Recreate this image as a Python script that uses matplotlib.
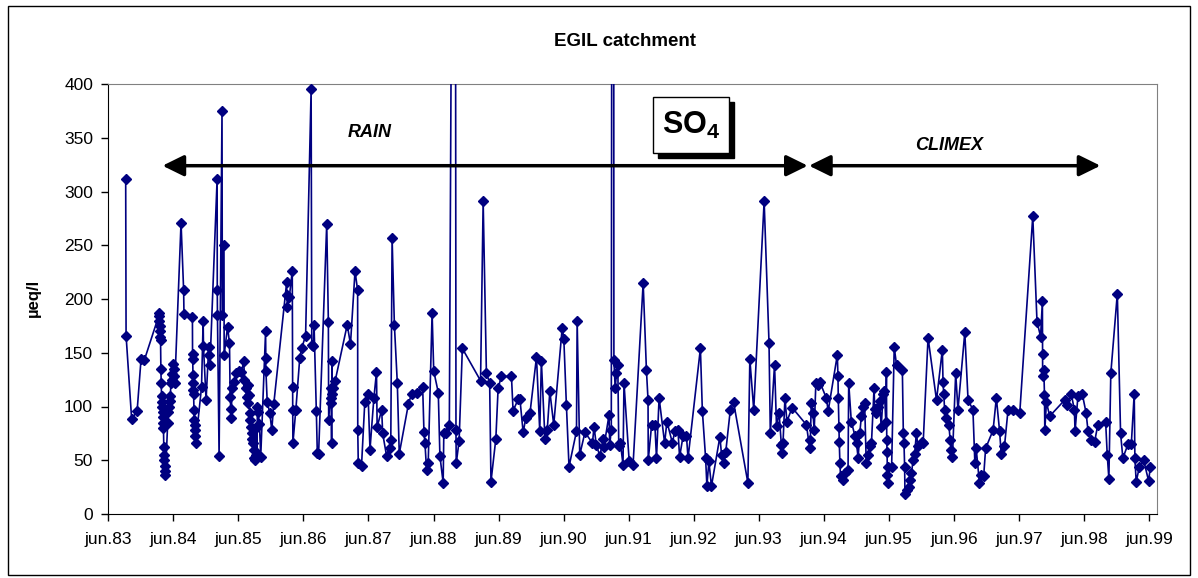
import matplotlib.pyplot as plt
from matplotlib.patches import Rectangle

plt.rcParams['font.family'] = ['Liberation Sans', 'DejaVu Sans']
plt.rcParams['mathtext.fontset'] = 'custom'
plt.rcParams['mathtext.rm'] = 'Liberation Sans'
plt.rcParams['mathtext.bf'] = 'Liberation Sans:bold'

# sampling dates (decimal years) and SO4 concentrations (ueq/l)
dates = [
    1983.684, 1983.690, 1983.776, 1983.860, 1983.920, 1983.970,
    1984.190, 1984.195, 1984.200, 1984.205, 1984.210, 1984.215, 1984.220, 1984.225,
    1984.230, 1984.235, 1984.240, 1984.245, 1984.250, 1984.255, 1984.260, 1984.265,
    1984.270, 1984.275, 1984.280, 1984.285, 1984.290, 1984.295, 1984.330, 1984.340,
    1984.350, 1984.360, 1984.370, 1984.380, 1984.390, 1984.400, 1984.410, 1984.420,
    1984.430, 1984.440,
    1984.535, 1984.575, 1984.580, 1984.710, 1984.712, 1984.715, 1984.718, 1984.722,
    1984.725, 1984.728, 1984.733, 1984.738, 1984.745, 1984.750, 1984.755, 1984.760,
    1984.850, 1984.875, 1984.880, 1984.920, 1984.960, 1984.970, 1984.980,
    1985.090, 1985.092, 1985.095, 1985.120, 1985.165, 1985.170, 1985.195, 1985.198,
    1985.250, 1985.280, 1985.290, 1985.300, 1985.305, 1985.320, 1985.345, 1985.380,
    1985.420, 1985.460, 1985.500, 1985.510, 1985.530, 1985.550, 1985.560, 1985.570,
    1985.580, 1985.590, 1985.600, 1985.610, 1985.620, 1985.630, 1985.640, 1985.650,
    1985.660, 1985.670, 1985.680, 1985.690, 1985.700, 1985.710, 1985.720, 1985.740,
    1985.760, 1985.835, 1985.838, 1985.840, 1985.860, 1985.900, 1985.930, 1985.960,
    1986.160, 1986.163, 1986.168, 1986.200, 1986.245, 1986.250, 1986.252, 1986.255,
    1986.300, 1986.360, 1986.390, 1986.450, 1986.535, 1986.545, 1986.570, 1986.580,
    1986.615, 1986.630, 1986.650, 1986.775, 1986.800, 1986.805, 1986.835, 1986.840,
    1986.845, 1986.850, 1986.855, 1986.860, 1986.870, 1986.905,
    1987.090, 1987.140, 1987.210, 1987.250, 1987.252, 1987.260, 1987.310, 1987.360,
    1987.410, 1987.440, 1987.500, 1987.540, 1987.550, 1987.620, 1987.635, 1987.695,
    1987.745, 1987.760, 1987.780, 1987.815, 1987.860, 1987.890,
    1988.030, 1988.080, 1988.160, 1988.250, 1988.270, 1988.285, 1988.310, 1988.335,
    1988.395, 1988.420, 1988.490, 1988.515, 1988.565, 1988.575, 1988.610, 1988.660,
    1988.745, 1988.762, 1988.766, 1988.810, 1988.860,
    1989.140, 1989.180, 1989.230, 1989.280, 1989.300, 1989.375, 1989.410, 1989.460,
    1989.615, 1989.640, 1989.720, 1989.745, 1989.795, 1989.835, 1989.900,
    1990.000, 1990.050, 1990.075, 1990.130, 1990.165, 1990.205, 1990.265, 1990.395,
    1990.420, 1990.460, 1990.500, 1990.615, 1990.625, 1990.665, 1990.745, 1990.860,
    1990.885, 1990.920, 1990.975, 1991.025, 1991.035, 1991.115, 1991.125, 1991.150,
    1991.179, 1991.190, 1991.210, 1991.230, 1991.250, 1991.265, 1991.290, 1991.330,
    1991.345, 1991.425, 1991.485, 1991.640, 1991.690, 1991.715, 1991.718, 1991.770,
    1991.820, 1991.845, 1991.885, 1991.970,
    1992.005, 1992.090, 1992.125, 1992.175, 1992.200, 1992.255, 1992.305, 1992.330,
    1992.520, 1992.550, 1992.600, 1992.620, 1992.650, 1992.690, 1992.820, 1992.845,
    1992.880, 1992.910, 1992.980,
    1993.030, 1993.250, 1993.280, 1993.340, 1993.500, 1993.575, 1993.595, 1993.660,
    1993.690, 1993.730, 1993.765, 1993.770, 1993.790, 1993.820, 1993.850, 1993.930,
    1994.150, 1994.200, 1994.210, 1994.225, 1994.250, 1994.270, 1994.295, 1994.330,
    1994.355, 1994.455, 1994.485, 1994.625, 1994.635, 1994.640, 1994.650, 1994.655,
    1994.665, 1994.675, 1994.705, 1994.740, 1994.790, 1994.800, 1994.840, 1994.895,
    1994.920, 1994.945, 1994.970, 1994.995,
    1995.020, 1995.045, 1995.070, 1995.095, 1995.120, 1995.150, 1995.190, 1995.200,
    1995.225, 1995.250, 1995.275, 1995.300, 1995.330, 1995.350, 1995.370, 1995.380,
    1995.385, 1995.390, 1995.395, 1995.400, 1995.410, 1995.460, 1995.500, 1995.535,
    1995.625, 1995.640, 1995.650, 1995.660, 1995.665, 1995.700, 1995.730, 1995.740,
    1995.765, 1995.790, 1995.815, 1995.840, 1995.865, 1995.920, 1995.945,
    1996.020, 1996.150, 1996.240, 1996.250, 1996.260, 1996.275, 1996.300, 1996.340,
    1996.360, 1996.380, 1996.395, 1996.445, 1996.480, 1996.585, 1996.635, 1996.710,
    1996.740, 1996.760, 1996.810, 1996.840, 1996.875, 1996.905,
    1997.020, 1997.070, 1997.120, 1997.145, 1997.195, 1997.250, 1997.330, 1997.430,
    1997.630, 1997.695, 1997.750, 1997.778, 1997.780, 1997.782, 1997.800, 1997.810,
    1997.815, 1997.840, 1997.890,
    1998.120, 1998.160, 1998.220, 1998.270, 1998.280, 1998.325, 1998.390, 1998.450,
    1998.480, 1998.530, 1998.580, 1998.630, 1998.750, 1998.775, 1998.800, 1998.830,
    1998.930, 1998.980, 1999.015, 1999.095, 1999.145, 1999.190, 1999.200, 1999.220,
    1999.270, 1999.335, 1999.410, 1999.440,
]
so4 = [
    312, 166, 88, 96, 144, 143,
    184, 187, 180, 175, 170, 165, 162, 135,
    122, 110, 104, 100, 95, 90, 85, 80,
    62, 55, 50, 45, 40, 36, 85, 95,
    100, 105, 110, 122, 125, 130, 140, 135,
    128, 122,
    271, 208, 186, 183, 149, 144, 129, 122,
    115, 112, 97, 87, 83, 78, 73, 66,
    118, 180, 156, 106, 155, 148, 139,
    312, 208, 185, 54, 375, 185, 250, 148,
    174, 159, 109, 98, 89, 117, 123, 131,
    133, 132, 142, 125, 117, 109, 103, 120,
    111, 94, 87, 81, 75, 70, 66, 60,
    52, 50, 55, 80, 56, 100, 95, 84,
    53, 170, 145, 133, 104, 94, 78, 102,
    216, 204, 193, 202, 226, 118, 97, 66,
    97, 145, 154, 166, 395, 157, 156, 176,
    96, 57, 56, 270, 179, 87, 117, 108,
    103, 66, 142, 112, 117, 124,
    176, 158, 226, 208, 78, 47, 45, 104,
    112, 60, 108, 132, 81, 97, 75, 54,
    61, 69, 257, 176, 122, 56,
    102, 112, 113, 118, 76, 66, 41, 47,
    187, 133, 113, 54, 29, 75, 75, 83,
    1140, 78, 47, 68, 154,
    124, 291, 131, 122, 30, 70, 117, 128,
    128, 96, 107, 107, 76, 89, 94,
    146, 77, 142, 70, 78, 114, 83, 173,
    163, 101, 44, 77, 180, 55, 76, 66,
    81, 64, 54, 70, 62, 92, 64, 78,
    1800, 143, 117, 131, 139, 63, 66, 46,
    122, 49, 46, 215, 134, 106, 50, 83,
    83, 52, 108, 66,
    86, 66, 77, 78, 53, 73, 73, 52,
    154, 96, 52, 26, 49, 26, 72, 55,
    47, 58, 97,
    104, 29, 144, 97, 291, 159, 75, 139,
    82, 94, 64, 57, 66, 108, 86, 99,
    83, 61, 69, 103, 94, 78, 122, 120,
    123, 108, 96, 148, 128, 108, 81, 67,
    47, 35, 32, 38, 41, 122, 86, 73,
    66, 52, 75, 91,
    100, 103, 47, 55, 63, 66, 117, 98,
    94, 100, 105, 81, 112, 114, 86, 132,
    69, 58, 36, 29, 44, 44, 155, 139,
    134, 75, 66, 44, 19, 22, 25, 32,
    38, 50, 56, 75, 63, 67, 66,
    164, 106, 153, 123, 112, 97, 89, 83,
    69, 60, 53, 131, 97, 169, 106, 97,
    47, 61, 29, 36, 35, 61,
    78, 108, 77, 56, 63, 97, 97, 94,
    277, 179, 165, 198, 149, 128, 134, 111,
    78, 104, 91,
    106, 101, 112, 97, 77, 110, 112, 94,
    77, 69, 67, 83, 86, 55, 33, 131,
    205, 75, 52, 65, 65, 112, 52, 30,
    44, 50, 31, 44,
]

tick_years = list(range(1983, 2000))
tick_labels = ['jun.%02d' % (y % 100) for y in tick_years]
rain_period = (1984.25, 1994.17)
climex_period = (1994.19, 1998.67)
arrow_level = 324

W, H = 1198, 578
fig = plt.figure(figsize=(W / 100, H / 100), dpi=100)
ax = fig.add_axes([108.3 / W, 1 - 514 / H, (1157 - 108.3) / W, (514 - 84) / H])

ax.plot(dates, so4, color='#000080', lw=1.2, marker='D', ms=5,
        mfc='#000080', mec='#000080', zorder=3)

ax.set_xlim(1983.417, 1999.54)
ax.set_ylim(0, 400)
ax.set_xticks([y + 5 / 12 for y in tick_years])
ax.set_xticklabels(tick_labels)
ax.set_yticks(range(0, 401, 50))
ax.tick_params(axis='both', direction='out', length=5, width=1, colors='black',
               labelsize=12.5)
ax.tick_params(axis='x', pad=8)
ax.tick_params(axis='y', pad=6)
for side in ['top', 'right']:
    ax.spines[side].set_color('#808080')
for side in ['left', 'bottom']:
    ax.spines[side].set_color('black')

# measurement periods
for x0, x1 in [rain_period, climex_period]:
    ax.annotate('', xy=(x1, arrow_level), xytext=(x0, arrow_level),
                arrowprops=dict(arrowstyle='<|-|>,head_length=0.65,head_width=0.32',
                                mutation_scale=20, color='black', lw=2.5,
                                shrinkA=0, shrinkB=0), zorder=4)
ax.text(1987.44, 355, 'RAIN', fontsize=13, fontweight='bold', style='italic',
        ha='center', va='center')
ax.text(1996.35, 343, 'CLIMEX', fontsize=13, fontweight='bold', style='italic',
        ha='center', va='center')

# SO4 label box with drop shadow
bx0, bx1, by0, by1 = 652.7, 729.3, 97.3, 152.7
fig.patches.append(Rectangle((bx0 / W + 5 / W, 1 - by1 / H - 5 / H), (bx1 - bx0) / W,
                             (by1 - by0) / H, transform=fig.transFigure,
                             facecolor='black', edgecolor='black', zorder=5))
fig.patches.append(Rectangle((bx0 / W, 1 - by1 / H), (bx1 - bx0) / W, (by1 - by0) / H,
                             transform=fig.transFigure, facecolor='white',
                             edgecolor='black', lw=1, zorder=6))
fig.text((bx0 + bx1) / 2 / W, 1 - (by0 + by1) / 2 / H, r'$\mathbf{SO}_\mathbf{4}$',
         fontsize=22, ha='center', va='center', zorder=7)

fig.text(625 / W, 1 - 42 / H, 'EGIL catchment', fontsize=13.5, fontweight='bold',
         ha='center', va='center')
fig.text(33 / W, 1 - 298 / H, 'µeq/l', fontsize=12, fontweight='bold',
         rotation=90, ha='center', va='center')

# outer frame
fig.patches.append(Rectangle((8 / W, 1 - 575 / H), (1190 - 8) / W, (575 - 6) / H,
                             transform=fig.transFigure, fill=False,
                             edgecolor='black', lw=1))

fig.savefig('out.png', dpi=100)
